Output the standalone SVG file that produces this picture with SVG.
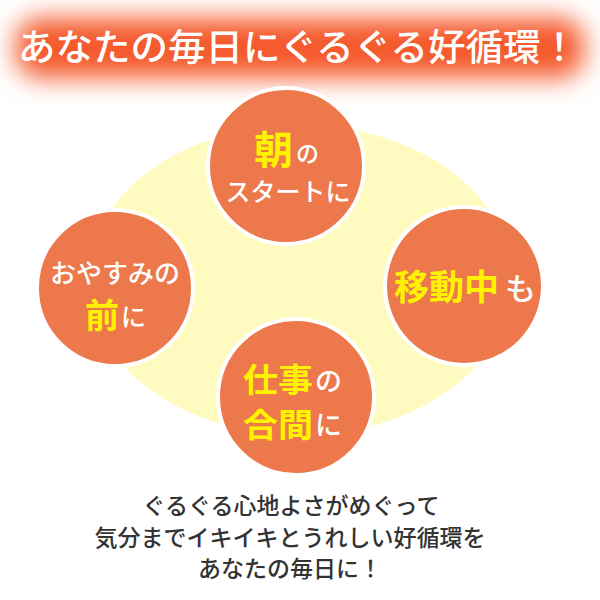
<svg xmlns="http://www.w3.org/2000/svg" width="600" height="600" viewBox="0 0 600 600">
<defs>
<filter id="glow" x="-20%" y="-100%" width="140%" height="300%"><feGaussianBlur stdDeviation="13"/></filter>
<style>
text{font-family:"Noto Sans CJK JP","Noto Sans",sans-serif;}
.c{fill:#EC784B;stroke:#fff;stroke-width:4;}
.y{fill:#FFF200;font-weight:700;}
.w{fill:#fff;font-weight:500;}
.b{fill:#333;font-size:23px;font-weight:500;text-anchor:middle;}
</style>
</defs>
<rect width="600" height="600" fill="#fff"/>
<g id="title">
<rect x="16" y="18" width="568" height="60" rx="24" fill="#F4582C" filter="url(#glow)"/>
<text x="298" y="61" font-size="37" fill="#fff" font-weight="500" text-anchor="middle" textLength="560" lengthAdjust="spacingAndGlyphs">あなたの毎日にぐるぐる好循環！</text>
</g>
<g id="ellipse"><ellipse cx="300" cy="280" rx="212" ry="155" fill="#FFFBC0"/></g>
<g id="morning">
<circle class="c" cx="286" cy="166" r="78"/>
<text x="254" y="164" font-size="39" class="y">朝</text>
<text x="296" y="162" font-size="23" class="w">の</text>
<text x="288" y="201" font-size="25" class="w" text-anchor="middle">スタートに</text>
</g>
<g id="night">
<circle class="c" cx="115" cy="288" r="78"/>
<text x="115" y="283" font-size="26" class="w" text-anchor="middle">おやすみの</text>
<text x="85" y="328" font-size="34" class="y">前</text>
<text x="121" y="326" font-size="25" class="w">に</text>
</g>
<g id="move">
<circle class="c" cx="464" cy="286" r="79"/>
<text x="394" y="300" font-size="35" class="y">移動中</text>
<text x="505" y="300" font-size="31" class="w">も</text>
</g>
<g id="work">
<circle class="c" cx="296" cy="397" r="78"/>
<text x="243" y="392" font-size="33" class="y" textLength="70" lengthAdjust="spacingAndGlyphs">仕事</text>
<text x="315" y="391" font-size="27" class="w">の</text>
<text x="243" y="437" font-size="33" class="y" textLength="70" lengthAdjust="spacingAndGlyphs">合間</text>
<text x="315" y="435" font-size="27" class="w">に</text>
</g>
<g id="caption">
<text x="291" y="514" class="b">ぐるぐる心地よさがめぐって</text>
<text x="290" y="546" class="b">気分までイキイキとうれしい好循環を</text>
<text x="290" y="577" class="b">あなたの毎日に！</text>
</g>
</svg>
